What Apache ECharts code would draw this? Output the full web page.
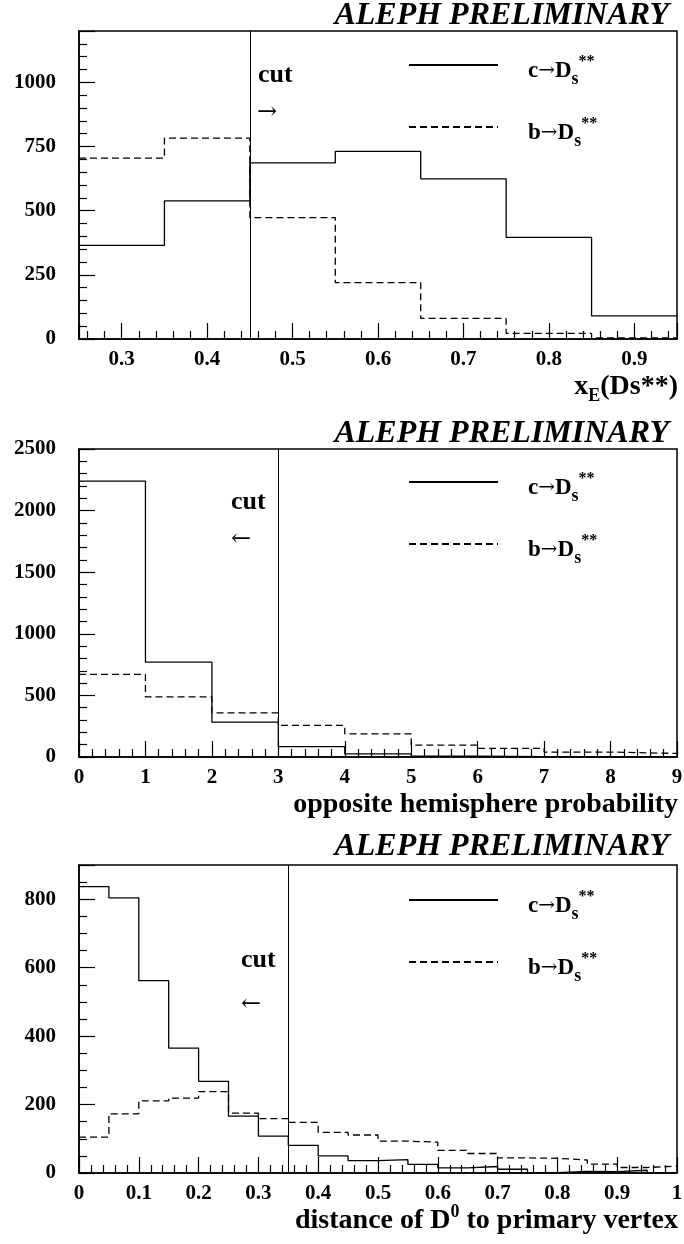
<!DOCTYPE html>
<html>
<head>
<meta charset="utf-8">
<script src="https://cdn.jsdelivr.net/npm/echarts@6/dist/echarts.min.js"></script>
<style>
  html, body { margin: 0; padding: 0; background: #fff; }
  #chart { width: 684px; height: 1244px; }
</style>
</head>
<body>
<div id="chart"></div>
<script>
// x_E(Ds**) panel
const xeEdges = [0.25, 0.35, 0.45, 0.55, 0.65, 0.75, 0.85, 0.95]
const xeCharm = [365, 538, 686, 731, 624, 396, 90]
const xeBeauty = [705, 783, 473, 220, 80, 22, 4]
const xeCut = 0.45

// opposite hemisphere probability panel
const probEdges = [0, 1, 2, 3, 4, 5, 6, 7, 8, 9]
const probCharm = [2240, 770, 283, 84, 25, 6, 3, 2, 1]
const probBeauty = [670, 488, 358, 256, 187, 96, 70, 40, 29]
const probCut = 3

// distance of D0 to primary vertex panel
const distEdges = [0, 0.05, 0.1, 0.15, 0.2, 0.25, 0.3, 0.35, 0.4, 0.45, 0.5,
  0.55, 0.6, 0.65, 0.7, 0.75, 0.8, 0.85, 0.9, 0.95, 1]
const distCharm = [837, 804, 562, 365, 268, 166, 108, 81, 50, 36, 39, 25, 15, 19, 11, 1, 5, 4, 8, 0]
const distBeauty = [105, 173, 211, 219, 238, 175, 159, 148, 119, 111, 93, 90, 66, 57, 44, 43, 38, 26, 16, 20]
const distCut = 0.35

const seriesNames = ['c', 'b']

const black = '#000'
const serif = 'Liberation Serif'

// histogram as a step line: one point per lower bin edge, last edge closes the bin
function hist (edges, vals) {
  return edges.map((e, i) => [e, vals[Math.min(i, vals.length - 1)]])
}

const labelStyle = { color: black, fontFamily: serif, fontWeight: 'bold', fontSize: 21, formatter: v => String(v) }

const nameRich = {
  t: { color: black, fontFamily: serif, fontWeight: 'bold', fontSize: 28, lineHeight: 36 },
  sub: { color: black, fontFamily: serif, fontWeight: 'bold', fontSize: 18, lineHeight: 12, verticalAlign: 'bottom' },
  sup: { color: black, fontFamily: serif, fontWeight: 'bold', fontSize: 18, lineHeight: 14, verticalAlign: 'top' },
}

function xAxis (gridIndex, min, max, step, name, namePad) {
  return {
    type: 'value',
    gridIndex,
    min,
    max,
    interval: step.fixed ? step.value : undefined,
    minInterval: step.fixed ? undefined : step.value,
    maxInterval: step.fixed ? undefined : step.value,
    axisLine: { show: true, onZero: false, lineStyle: { color: black, width: 1.5 } },
    axisTick: { show: true, inside: true, length: 16, lineStyle: { color: black, width: 1.2 } },
    minorTick: { show: true, splitNumber: 5, length: 8, lineStyle: { color: black, width: 1.2 } },
    splitLine: { show: false },
    axisLabel: { ...labelStyle, margin: 10, showMinLabel: step.fixed, showMaxLabel: step.fixed },
    name,
    nameLocation: 'end',
    nameGap: 1,
    nameMoveOverlap: false,
    nameTextStyle: { align: 'right', verticalAlign: 'top', padding: [namePad, 0, 0, 0], rich: nameRich },
  }
}

function yAxis (gridIndex, max, interval, minorSplit, showMax) {
  return {
    type: 'value',
    gridIndex,
    min: 0,
    max,
    interval,
    axisLine: { show: true, lineStyle: { color: black, width: 1.5 } },
    axisTick: { show: true, inside: true, length: 16, lineStyle: { color: black, width: 1.2 } },
    minorTick: { show: true, splitNumber: minorSplit, length: 8, lineStyle: { color: black, width: 1.2 } },
    splitLine: { show: false },
    axisLabel: { ...labelStyle, margin: 23, showMaxLabel: showMax },
  }
}

function histSeries (name, idx, edges, vals, dashed, cut) {
  const s = {
    name,
    type: 'line',
    step: 'end',
    xAxisIndex: idx,
    yAxisIndex: idx,
    data: hist(edges, vals),
    symbol: 'none',
    itemStyle: { color: black },
    lineStyle: { color: black, width: 1.3, type: dashed ? [7, 4] : 'solid' },
  }
  if (cut !== undefined) {
    s.markLine = {
      silent: true,
      symbol: 'none',
      label: { show: false },
      lineStyle: { color: black, width: 1, type: 'solid' },
      data: [{ xAxis: cut }],
    }
  }
  return s
}

const legendRich = {
  m: { color: black, fontFamily: serif, fontWeight: 'bold', fontSize: 23, lineHeight: 34 },
  a: { color: black, fontFamily: 'DejaVu Serif', fontSize: 20, lineHeight: 34 },
  s: { color: black, fontFamily: serif, fontWeight: 'bold', fontSize: 18, lineHeight: 8, verticalAlign: 'bottom' },
  u: { color: black, fontFamily: serif, fontWeight: 'bold', fontSize: 16, lineHeight: 27, verticalAlign: 'top' },
}

function legend (top) {
  return {
    orient: 'vertical',
    left: 408,
    top,
    padding: 0,
    itemWidth: 89,
    itemHeight: 14,
    itemGap: 28,
    selectedMode: false,
    data: seriesNames,
    itemStyle: { color: 'transparent', borderWidth: 0, opacity: 0 },
    formatter: n => `{m|${n}}{a|→}{m|D}{s|s}{u|**}`,
    textStyle: { padding: [12, 0, 0, 25], rich: legendRich },
  }
}

function text (x, y, str, font, align) {
  return {
    type: 'text',
    x,
    y,
    style: { text: str, font, fill: black, align: align || 'left', verticalAlign: 'middle' },
  }
}

const titleFont = 'italic bold 32px "Liberation Serif"'
const cutFont = 'bold 26px "Liberation Serif"'
const arrowFont = '24px "DejaVu Serif"'

const chart = echarts.init(document.getElementById('chart'))

chart.setOption({
  animation: false,
  backgroundColor: '#fff',
  grid: [31, 449, 865].map(top => ({
    left: 79, top, width: 598, height: 308,
    containLabel: false,
    outerBoundsMode: 'none',
    show: true, borderColor: black, borderWidth: 1.5, backgroundColor: 'transparent',
  })),
  xAxis: [
    xAxis(0, 0.25, 0.95, { value: 0.1, fixed: false }, '{t|x}{sub|E}{t|(Ds**)}', 30),
    xAxis(1, 0, 9, { value: 1, fixed: true }, '{t|opposite hemisphere probability}', 30),
    xAxis(2, 0, 1, { value: 0.1, fixed: true }, '{t|distance of D}{sup|0}{t| to primary vertex}', 30),
  ],
  yAxis: [
    yAxis(0, 1200, 250, 5, false),
    yAxis(1, 2500, 500, 5, true),
    yAxis(2, 900, 200, 4, false),
  ],
  legend: [legend(54), legend(471), legend(889)],
  series: [
    histSeries('c', 0, xeEdges, xeCharm, false, xeCut),
    histSeries('b', 0, xeEdges, xeBeauty, true),
    histSeries('c', 1, probEdges, probCharm, false, probCut),
    histSeries('b', 1, probEdges, probBeauty, true),
    histSeries('c', 2, distEdges, distCharm, false, distCut),
    histSeries('b', 2, distEdges, distBeauty, true),
  ],
  graphic: [
    text(669, 16, 'ALEPH PRELIMINARY', titleFont, 'right'),
    text(669, 434, 'ALEPH PRELIMINARY', titleFont, 'right'),
    text(669, 847, 'ALEPH PRELIMINARY', titleFont, 'right'),
    text(258, 75, 'cut', cutFont),
    text(257, 113, '→', arrowFont),
    text(231, 502, 'cut', cutFont),
    text(231, 540, '←', arrowFont),
    text(241, 960, 'cut', cutFont),
    text(241, 1005, '←', arrowFont),
  ],
})
</script>
</body>
</html>
